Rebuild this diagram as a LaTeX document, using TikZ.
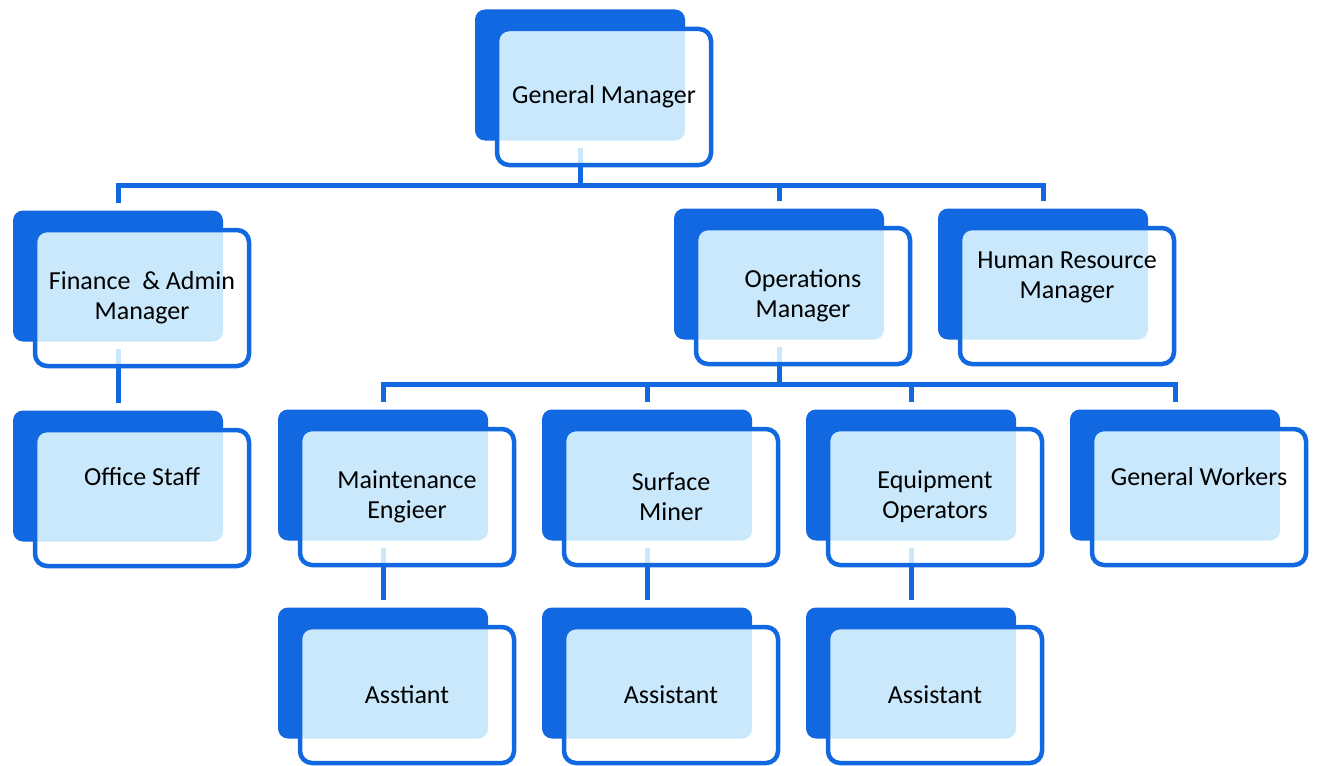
\documentclass[tikz,border=0pt]{standalone}
\usepackage{fontspec}
\setmainfont{Carlito}
\usetikzlibrary{positioning,backgrounds}

\definecolor{orgblue}{RGB}{18,104,224}
\definecolor{cardtint}{RGB}{196,216,214}

\tikzset{
  card/.style={draw=orgblue, line width=2.25pt, rounded corners=6pt,
    preaction={fill=cardtint, blend mode=screen},
    minimum width=107pt, minimum height=68pt, align=center,
    font=\fontsize{13}{15}\selectfont},
  cardback/.style={fill=orgblue, rounded corners=5pt, inner sep=0pt,
    minimum width=105pt, minimum height=65.5pt},
  link/.style={draw=orgblue, line width=2.5pt},
  lifted/.style={text depth=21pt},
}

\begin{document}
\begin{tikzpicture}[x=0.5pt,y=-0.5pt,node distance=99pt and 132pt,on grid]
  \useasboundingbox (0,0) rectangle (1321,765);
  % top
  \node[card] (gm) at (604,97) {General Manager};
  % managers
  \node[card] (fin) at (142,298) {Finance \ \& Admin\\Manager};
  \node[card] (ops) at (803,296) {Operations\\Manager};
  \node[card,lifted] (hr) [right=of ops] {Human Resource\\Manager};
  \node[card,lifted] (off) [below=100pt of fin] {Office Staff};
  % operations staff
  \node[card] (mnt) at (407,497) {Maintenance\\Engieer};
  \node[card] (srf) [right=of mnt] {Surface\\Miner};
  \node[card] (eqp) [right=of srf] {Equipment\\Operators};
  \node[card,lifted] (gw) [right=of eqp] {General Workers};
  % assistants
  \node[card] (as1) [below=of mnt] {Asstiant};
  \node[card] (as2) [below=of srf] {Assistant};
  \node[card] (as3) [below=of eqp] {Assistant};

  \begin{pgfonlayer}{background}
    % white page, so the screened card tint stays white off the tabs
    \fill[white] (0,0) rectangle (1321,765);
    % dark tabs behind each card
    \foreach \n in {gm,fin,ops,hr,off,mnt,srf,eqp,gw,as1,as2,as3}
      \node[cardback] (\n-b) at ([shift={(-12pt,11pt)}]\n.center) {};
    \coordinate (bus1) at (0,185);
    \coordinate (bus2) at (0,384);
    \foreach \n in {fin,ops,hr}
      \draw[link] ([yshift=-3.5pt]gm-b.south) |- (bus1 -| \n-b) -- ([yshift=3.5pt]\n-b.north);
    \foreach \n in {mnt,srf,eqp,gw}
      \draw[link] ([yshift=-3.5pt]ops-b.south) |- (bus2 -| \n-b) -- ([yshift=3.5pt]\n-b.north);
    \draw[link] ([yshift=-3.5pt]fin-b.south) -- ([yshift=3.5pt]off-b.north);
    \draw[link] ([yshift=-3.5pt]mnt-b.south) -- ([yshift=3.5pt]as1-b.north);
    \draw[link] ([yshift=-3.5pt]srf-b.south) -- ([yshift=3.5pt]as2-b.north);
    \draw[link] ([yshift=-3.5pt]eqp-b.south) -- ([yshift=3.5pt]as3-b.north);
  \end{pgfonlayer}
\end{tikzpicture}
\end{document}
